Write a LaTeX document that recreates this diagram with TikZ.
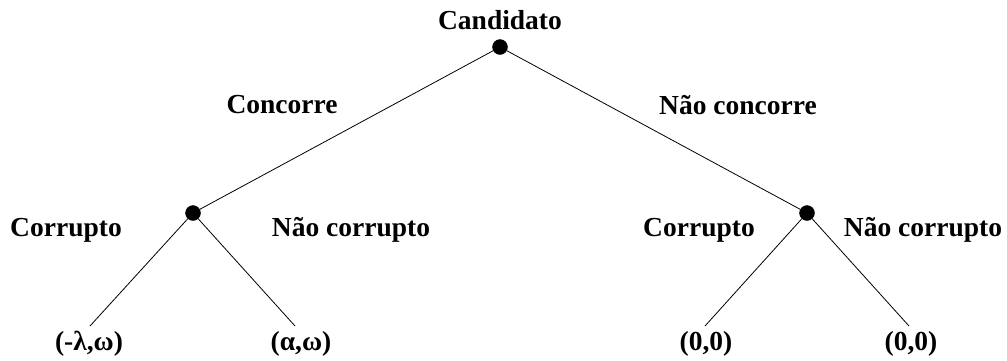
\documentclass[tikz,border=0pt]{standalone}
\usepackage{fontspec}
\setmainfont{Liberation Serif}
\begin{document}
\begin{tikzpicture}[x=1pt,y=-1pt,
  lbl/.style={font=\fontsize{27.5}{32}\selectfont\bfseries, inner sep=0pt},
  leaf/.style={font=\fontsize{27.5}{32}\selectfont\bfseries, inner sep=0pt, anchor=north},
  dot/.style={circle, fill=black, draw=black, minimum size=15pt, inner sep=0pt},
  edge/.style={line width=0.8pt}]
\useasboundingbox (0,0) rectangle (1007,360);
% decision nodes
\node[dot] (root) at (500,47) {};
\node[dot] (nl) at (193,213) {};
\node[dot] (nr) at (807,213) {};
% labels
\node[lbl] (tcand) at (500,20) {Candidato};
\node[lbl] (tconc) at (282,105) {Concorre};
\node[lbl] (tnconc) at (738,105) {Não concorre};
\node[lbl] (tc1) at (66,230) {Corrupto};
\node[lbl] (tnc1) at (351,230) {Não corrupto};
\node[lbl] (tc2) at (699,230) {Corrupto};
\node[lbl] (tnc2) at (923,230) {Não corrupto};
% leaves
\node[leaf] (l1) at (89,331) {(-λ,ω)};
\node[leaf] (l2) at (301,331) {(α,ω)};
\node[leaf] (l3) at (706,331) {(0,0)};
\node[leaf] (l4) at (911,331) {(0,0)};
\coordinate (e1) at (90,326);
\coordinate (e2) at (295,326);
\coordinate (e3) at (705,326);
\coordinate (e4) at (909,326);
% edges
\draw[edge] (root) -- (nl);
\draw[edge] (root) -- (nr);
\draw[edge] (nl) -- (e1);
\draw[edge] (nl) -- (e2);
\draw[edge] (nr) -- (e3);
\draw[edge] (nr) -- (e4);
\end{tikzpicture}
\end{document}
